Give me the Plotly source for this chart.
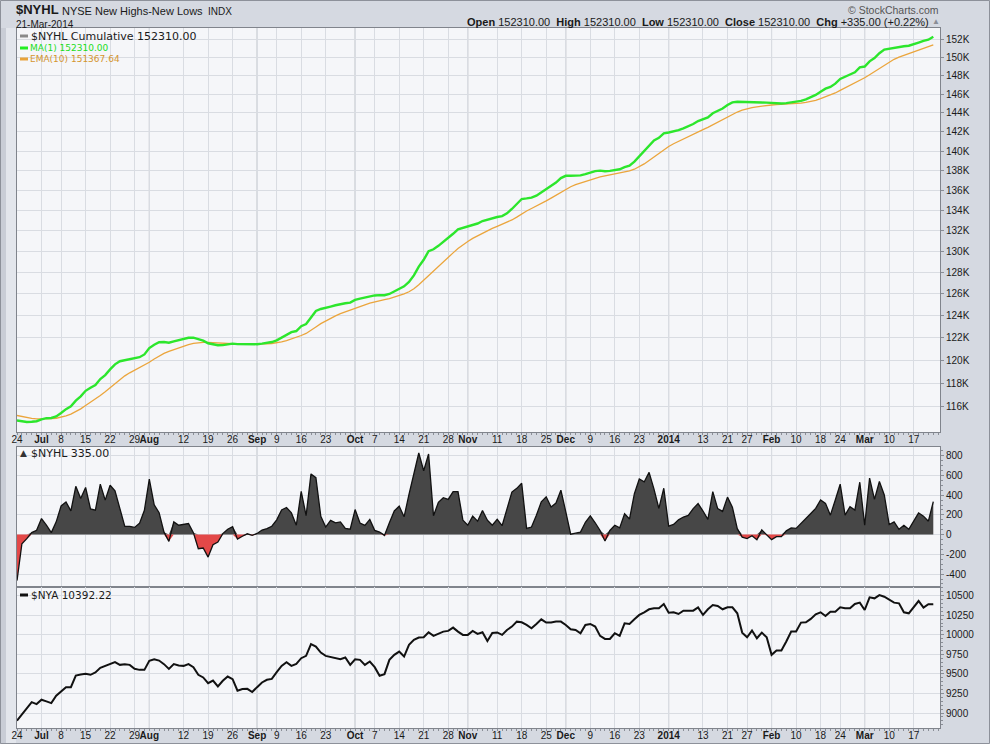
import numpy as np
import pandas as pd
import plotly.graph_objects as go

# ---------------- data ----------------
holidays = ["2013-07-04", "2013-09-02", "2013-11-28", "2013-12-25",
            "2014-01-01", "2014-01-20", "2014-02-17"]

nyhl_daily = [
    -466, -92, -41, 20, 44, 163, 95, 20, 129, 290,
    330, 240, 490, 367, 478, 261, 247, 512, 350, 500,
    443, 273, 84, 84, 73, 114, 247, 562, 302, 222,
    25, -68, 129, 95, 106, 112, 20, -143, -136, -228,
    -102, -75, 10, 54, 80, -46, -17, 8, -8, 12,
    46, 60, 85, 150, 250, 275, 220, 95, 438, 193,
    615, 577, 185, 77, 145, 120, 128, 63, 55, 254,
    118, 93, 154, 43, 26, -8, 120, 240, 288, 180,
    408, 623, 827, 647, 817, 191, 327, 374, 357, 436,
    436, 146, 95, 187, 136, 245, 146, 95, 155, 90,
    265, 431, 469, 521, 63, 77, 196, 332, 383, 279,
    320, 450, 231, 5, 15, 25, 125, 190, 120, 42,
    -65, 42, 95, 68, 212, 158, 415, 563, 534, 631,
    461, 265, 470, 85, 103, 150, 178, 195, 263, 315,
    239, 155, 435, 264, 235, 380, 278, 60, -25, -40,
    -11, -53, 48, -6, -51, -20, -20, 38, 68, 63,
    112, 157, 214, 266, 351, 317, 197, 351, 511, 197,
    283, 248, 531, 95, 572, 357, 538, 402, 102, 129,
    54, 95, 54, 136, 221, 187, 136, 335,
]

nya_close = [
    8902, 8979, 9064, 9140, 9115, 9170, 9149, 9127, 9221, 9276,
    9331, 9331, 9480, 9493, 9501, 9489, 9518, 9578, 9603, 9629,
    9650, 9616, 9625, 9616, 9565, 9552, 9552, 9667, 9688, 9671,
    9625, 9565, 9625, 9608, 9603, 9625, 9586, 9489, 9455, 9382,
    9416, 9340, 9412, 9467, 9433, 9285, 9306, 9310, 9268, 9331,
    9391, 9425, 9437, 9522, 9603, 9650, 9603, 9629, 9701, 9731,
    9880, 9850, 9773, 9731, 9714, 9701, 9688, 9710, 9616, 9688,
    9680, 9616, 9659, 9586, 9476, 9497, 9680, 9744, 9786, 9722,
    9871, 9935, 9965, 9969, 10033, 9986, 10011, 10041, 10050, 10092,
    10041, 9999, 9999, 10050, 10011, 10033, 9922, 10024, 10030, 9999,
    10062, 10105, 10168, 10160, 10126, 10084, 10139, 10198, 10156, 10156,
    10169, 10169, 10126, 10071, 10062, 10020, 10126, 10139, 10105, 9986,
    9948, 9948, 10020, 9986, 10147, 10139, 10198, 10254, 10288, 10326,
    10339, 10339, 10394, 10283, 10288, 10266, 10309, 10309, 10309, 10351,
    10254, 10326, 10381, 10368, 10326, 10351, 10351, 10275, 10028, 9969,
    10054, 9956, 10028, 9969, 9744, 9799, 9799, 9914, 10041, 10041,
    10156, 10160, 10203, 10262, 10288, 10241, 10296, 10296, 10351, 10339,
    10339, 10394, 10411, 10317, 10479, 10466, 10508, 10487, 10453, 10411,
    10402, 10288, 10275, 10360, 10432, 10347, 10390, 10392,
]

cum_last = 152310.00        # last $NYHL Cumulative value
ema_seed = 115300.0         # EMA(10) level just before the first day shown

tick_dates = ["2013-06-24", "2013-07-01", "2013-07-08", "2013-07-15", "2013-07-22",
              "2013-07-29", "2013-08-01", "2013-08-12", "2013-08-19", "2013-08-26",
              "2013-09-03", "2013-09-09", "2013-09-16", "2013-09-23", "2013-10-01",
              "2013-10-07", "2013-10-14", "2013-10-21", "2013-10-28", "2013-11-01",
              "2013-11-11", "2013-11-18", "2013-11-25", "2013-12-02", "2013-12-09",
              "2013-12-16", "2013-12-23", "2014-01-02", "2014-01-13", "2014-01-21",
              "2014-01-27", "2014-02-03", "2014-02-10", "2014-02-18", "2014-02-24",
              "2014-03-03", "2014-03-10", "2014-03-17"]
tick_text = ["24", "<b>Jul</b>", "8", "15", "22", "29", "<b>Aug</b>", "12", "19", "26",
             "<b>Sep</b>", "9", "16", "23", "<b>Oct</b>", "7", "14", "21", "28", "<b>Nov</b>",
             "11", "18", "25", "<b>Dec</b>", "9", "16", "23", "<b>2014</b>", "13", "21",
             "27", "<b>Feb</b>", "10", "18", "24", "<b>Mar</b>", "10", "17"]
month_dates = ["2013-07-01", "2013-08-01", "2013-09-03", "2013-10-01", "2013-11-01",
               "2013-12-02", "2014-01-02", "2014-02-03", "2014-03-03"]

top_ticks = list(range(116000, 152001, 2000))
top_ticktext = [f"{v // 1000}K" for v in top_ticks]
mid_ticks = [-400, -200, 0, 200, 400, 600, 800]
bot_ticks = [9000, 9250, 9500, 9750, 10000, 10250, 10500]

# ---------------- derived ----------------
dates = pd.bdate_range("2013-06-24", "2014-03-21")
dates = dates[~dates.isin(pd.to_datetime(holidays))]
x = np.arange(len(dates))
daily = np.array(nyhl_daily, dtype=float)
cum = np.cumsum(daily)
cum = cum - cum[-1] + cum_last
alpha = 2.0 / 11.0
ema = []
prev = ema_seed
for c in cum:
    prev = prev + alpha * (c - prev)
    ema.append(prev)

tick_idx = list(dates.get_indexer(pd.to_datetime(tick_dates)))
month_idx = list(dates.get_indexer(pd.to_datetime(month_dates)))

# ---------------- geometry helpers ----------------
W, H = 990, 744
ML, MR, MT, MB = 17, 50, 28, 16
PW, PH = W - ML - MR, H - MT - MB


def px(v):
    return (v - ML) / PW


def py(v):
    return (H - MB - v) / PH


BG = "#f5f6f9"
PAPER = "#d5d9e1"
GRID = "#d9dce2"
MGRID = "#b3b7bf"
BORDER = "#80848c"
TXT = "#1a1a1a"
TICKFONT = dict(family="Liberation Sans, Arial, sans-serif", size=10, color=TXT)

fig = go.Figure()

# top panel
fig.add_trace(go.Scatter(x=x, y=ema, mode="lines", line=dict(color="#eba53c", width=1.3),
                         xaxis="x", yaxis="y", hoverinfo="skip"))
fig.add_trace(go.Scatter(x=x, y=cum, mode="lines", line=dict(color="#2ce62c", width=2.4),
                         xaxis="x", yaxis="y", hoverinfo="skip"))

# middle panel (area)
pos = np.clip(daily, 0, None)
neg = np.clip(daily, None, 0)
fig.add_trace(go.Scatter(x=x, y=pos, mode="lines", line=dict(width=0, color="#474747"),
                         fill="tozeroy", fillcolor="#474747", xaxis="x2", yaxis="y2",
                         hoverinfo="skip"))
fig.add_trace(go.Scatter(x=x, y=neg, mode="lines", line=dict(width=0, color="#e34848"),
                         fill="tozeroy", fillcolor="#e34848", xaxis="x2", yaxis="y2",
                         hoverinfo="skip"))
fig.add_trace(go.Scatter(x=x, y=daily, mode="lines", line=dict(color="#111111", width=1.3),
                         xaxis="x2", yaxis="y2", hoverinfo="skip"))

# bottom panel
fig.add_trace(go.Scatter(x=x, y=nya_close, mode="lines", line=dict(color="#111111", width=2),
                         xaxis="x3", yaxis="y3", hoverinfo="skip"))

xr = [0, 188.37]
xcommon = dict(range=xr, showgrid=True, gridcolor=GRID, gridwidth=1, zeroline=False,
               showline=True, mirror=True, linecolor=BORDER, linewidth=1,
               tickmode="array", tickvals=tick_idx, ticktext=tick_text, tickangle=0,
               automargin=False, ticklabelstandoff=-4,
               tickfont=TICKFONT, ticks="outside", ticklen=2, tickcolor="#8a8e96",
               minor=dict(tickmode="linear", tick0=0, dtick=1, ticks="outside", ticklen=2,
                          tickcolor="#8a8e96", showgrid=False))
ycommon = dict(side="right", showgrid=True, gridcolor=GRID, gridwidth=1, zeroline=False,
               showline=True, mirror=True, linecolor=BORDER, linewidth=1, automargin=False,
               tickfont=TICKFONT, ticks="outside", ticklen=3, tickcolor="#8a8e96",
               tickmode="array")

fig.update_layout(
    width=W, height=H,
    margin=dict(l=ML, r=MR, t=MT, b=MB, pad=0, autoexpand=False),
    paper_bgcolor=PAPER, plot_bgcolor=BG,
    showlegend=False,
    xaxis=dict(domain=[0, 1], anchor="y", **xcommon),
    xaxis2=dict(domain=[0, 1], anchor="y2", matches="x", **{**xcommon, "showticklabels": False,
                                                            "ticks": "", "minor": dict(ticks="")}),
    xaxis3=dict(domain=[0, 1], anchor="y3", matches="x", **xcommon),
    yaxis=dict(domain=[py(432), py(28)], anchor="x", type="log", range=[5.0562, 5.1855],
               tickvals=top_ticks, ticktext=top_ticktext, **ycommon),
    yaxis2=dict(domain=[py(587), py(447)], anchor="x2", range=[-531, 888],
                tickvals=mid_ticks, ticktext=[str(v) for v in mid_ticks],
                minor=dict(tickmode="linear", tick0=0, dtick=50, ticks="outside", ticklen=2,
                           tickcolor="#8a8e96", showgrid=False), **ycommon),
    yaxis3=dict(domain=[py(728), py(587)], anchor="x3", range=[8809, 10611],
                tickvals=bot_ticks, ticktext=[str(v) for v in bot_ticks],
                minor=dict(tickmode="linear", tick0=0, dtick=50, ticks="outside", ticklen=2,
                           tickcolor="#8a8e96", showgrid=False), **ycommon),
)

shapes = []
# month separators (darker vertical grid)
for m in month_idx:
    shapes.append(dict(type="line", xref="x", yref="paper", x0=m, x1=m, y0=py(432), y1=1,
                       line=dict(color=MGRID, width=1), layer="between"))
    shapes.append(dict(type="line", xref="x", yref="paper", x0=m, x1=m, y0=0, y1=py(447),
                       line=dict(color=MGRID, width=1), layer="between"))
# left strip
shapes.append(dict(type="rect", xref="paper", yref="paper", x0=px(0), x1=px(16), y0=py(744),
                   y1=py(28), fillcolor="#e3e6ec", line=dict(width=0), layer="below"))
shapes.append(dict(type="rect", xref="paper", yref="paper", x0=px(0), x1=px(6), y0=py(744),
                   y1=py(28), fillcolor="#c9cdd6", line=dict(width=0), layer="below"))
# outer border
shapes.append(dict(type="rect", xref="paper", yref="paper", x0=px(0.5), x1=px(989.5),
                   y0=py(743.5), y1=py(0.5), line=dict(color="#8d919a", width=1),
                   fillcolor="rgba(0,0,0,0)", layer="below"))
# legend dashes
for yy, col in [(36, "#8a8a8a"), (48, "#22ee22"), (59, "#e8a33a"), (595, "#111111")]:
    shapes.append(dict(type="line", xref="paper", yref="paper", x0=px(20), x1=px(28),
                       y0=py(yy), y1=py(yy), line=dict(color=col, width=3), layer="above"))
fig.update_layout(shapes=shapes)

LEG = "DejaVu Sans, Verdana, sans-serif"
HDR = "Liberation Sans, Arial, sans-serif"


def ann(text, xx, yy, size, color=TXT, family=HDR, xanchor="left"):
    fig.add_annotation(text=text, x=px(xx), y=py(yy), xref="paper", yref="paper",
                       xanchor=xanchor, yanchor="middle", showarrow=False, borderpad=0,
                       font=dict(family=family, size=size, color=color))


ann("<b>$NYHL</b>", 15, 10, 13)
ann("NYSE New Highs-New Lows", 61, 11.5, 11)
ann("INDX", 207, 11.5, 10)
ann("21-Mar-2014", 15, 24.5, 10)
ann("© StockCharts.com", 940, 10, 10.5, color="#555555", xanchor="right")
ann("<b>Open</b> 152310.00  <b>High</b> 152310.00  <b>Low</b> 152310.00  "
    "<b>Close</b> 152310.00  <b>Chg</b> +335.00 (+0.22%)", 930, 22, 11, xanchor="right")
ann("▲", 931, 22, 8, color="#8a8e96")

ann("$NYHL Cumulative 152310.00", 30, 36, 11, family=LEG)
ann("MA(1) 152310.00", 29, 48, 9, color="#22dd22", family=LEG)
ann("EMA(10) 151367.64", 29, 59, 9, color="#d4952e", family=LEG)
ann("▲", 19, 453, 9, color="#333333", family=LEG)
ann("$NYHL 335.00", 30, 453, 11, family=LEG)
ann("$NYA 10392.22", 30, 595, 10.5, family=LEG)

fig.write_html("out.html", config={"displayModeBar": False, "staticPlot": True},
               post_script="document.body.style.margin='0';document.body.style.padding='0';"
                           "document.body.style.overflow='hidden';")
